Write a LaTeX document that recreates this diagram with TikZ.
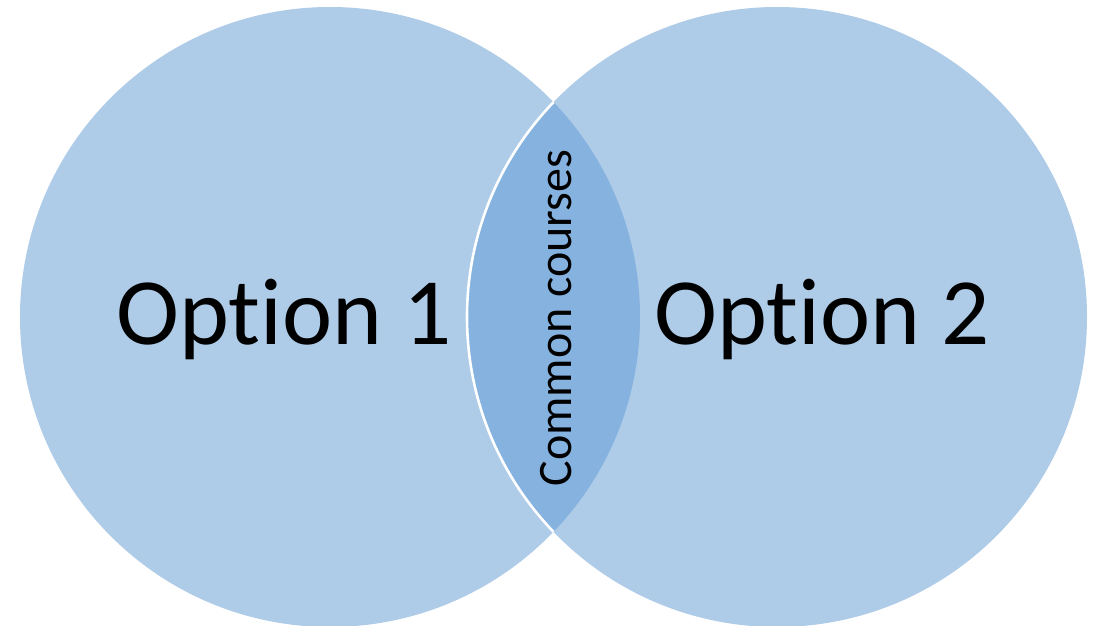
\documentclass[tikz,border=0pt]{standalone}
\usepackage{fontspec}
\setmainfont[RawFeature=-liga]{Carlito}
\definecolor{circblue}{HTML}{AECBE8}
\definecolor{lensblue}{HTML}{85B2DF}
\begin{document}
\begin{tikzpicture}[x=0.5pt,y=-0.5pt,
  venn/.style={circle,fill=circblue,draw=none,inner sep=0pt,minimum size=310pt},
  biglabel/.style={font=\fontsize{47.5}{52}\selectfont,anchor=base,inner sep=0pt},
  smalllabel/.style={font=\fontsize{24}{28}\selectfont,anchor=base,inner sep=0pt,rotate=90}]
\useasboundingbox (0,0) rectangle (1094,626);
\node[venn] (c1) at (330,317) {};
\node[venn] (c2) at (777,317) {};
\begin{scope}
  \clip (330,317) circle (310);
  \fill[lensblue] (777,317) circle (310);
  \draw[white,line width=1.3pt] (777,317) circle (310);
\end{scope}
\node[biglabel] (o1) at (284,344) {Option 1};
\node[biglabel] (o2) at (822,344) {Option 2};
\node[smalllabel] (cc) at (571,318) {Common courses};
\end{tikzpicture}
\end{document}
